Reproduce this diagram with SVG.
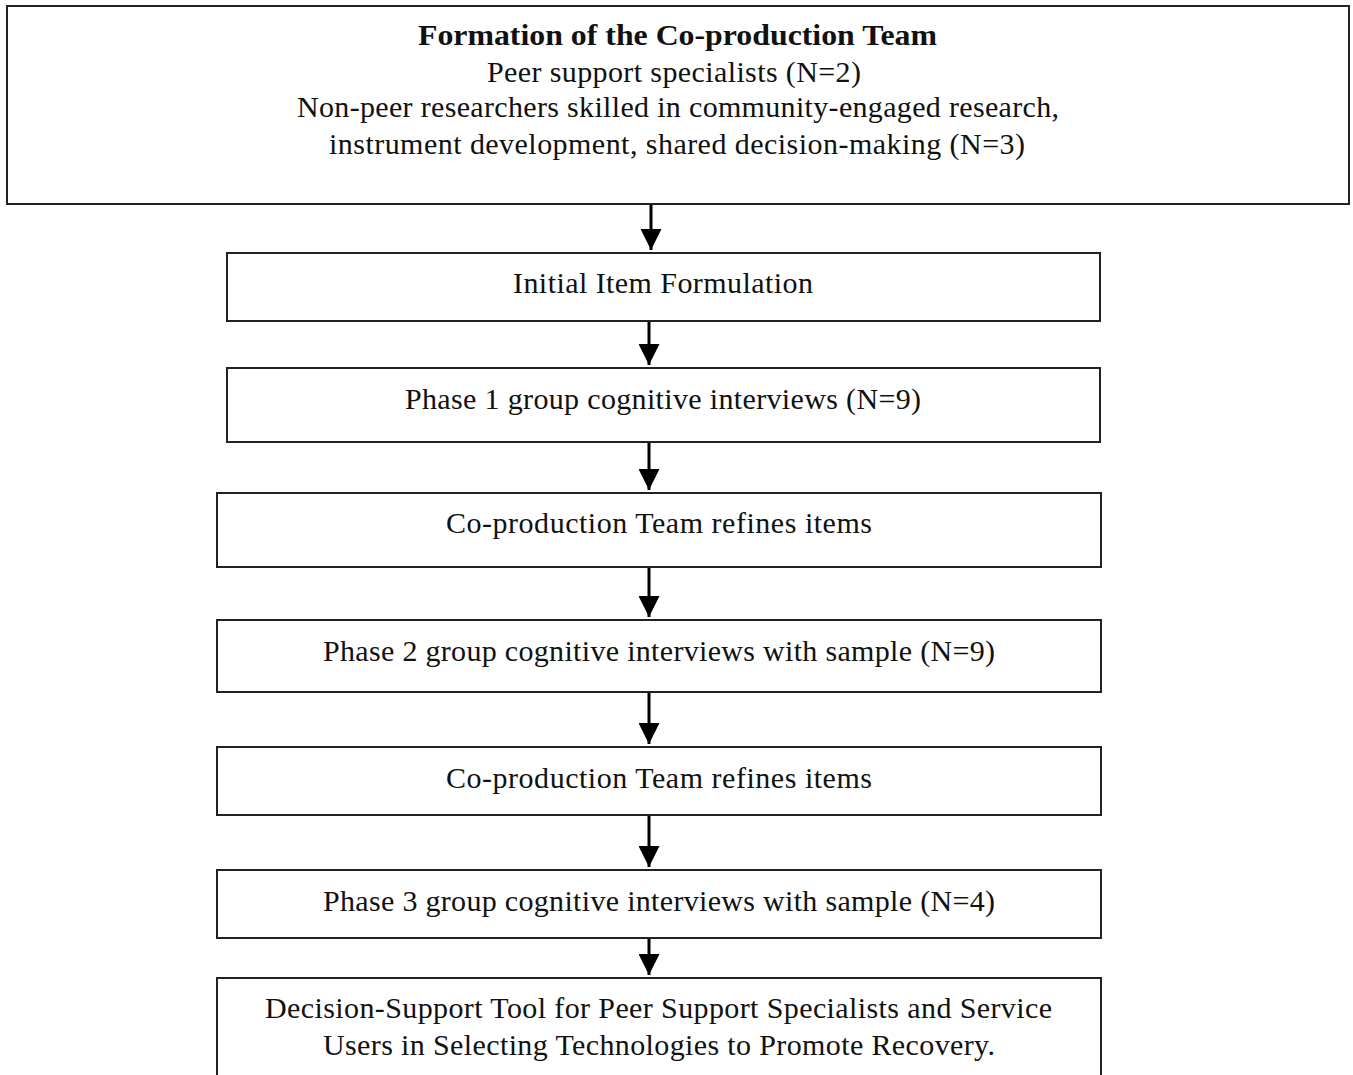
<svg xmlns="http://www.w3.org/2000/svg" width="1353" height="1075" viewBox="0 0 1353 1075">
<style>
.box{fill:#fff;stroke:#222;stroke-width:2}
.t{font-family:"Liberation Serif","Times New Roman",serif;font-size:30px;fill:#111;text-anchor:middle}
.b{font-weight:bold}
.c{stroke:#000;stroke-width:3;fill:none}
</style>
<defs>
<marker id="ah" markerWidth="8" markerHeight="7" refX="7" refY="3.5" orient="auto" markerUnits="strokeWidth">
<path d="M0,0 L7,3.5 L0,7 Z" fill="#000"/>
</marker>
</defs>
<rect width="1353" height="1075" fill="#fff"/>
<g id="connectors">
<line class="c" x1="651" y1="205" x2="651" y2="250" marker-end="url(#ah)"/>
<line class="c" x1="649" y1="322" x2="649" y2="365" marker-end="url(#ah)"/>
<line class="c" x1="649" y1="443" x2="649" y2="490" marker-end="url(#ah)"/>
<line class="c" x1="649" y1="568" x2="649" y2="617" marker-end="url(#ah)"/>
<line class="c" x1="649" y1="693" x2="649" y2="744" marker-end="url(#ah)"/>
<line class="c" x1="649" y1="816" x2="649" y2="867" marker-end="url(#ah)"/>
<line class="c" x1="649" y1="939" x2="649" y2="975" marker-end="url(#ah)"/>
</g>
<g id="n1">
<rect class="box" x="7" y="6" width="1342" height="198"/>
<text class="t b" x="677.5" y="45" textLength="519" lengthAdjust="spacingAndGlyphs">Formation of the Co-production Team</text>
<text class="t" x="674" y="82" textLength="374">Peer support specialists (N=2)</text>
<text class="t" x="678" y="117" textLength="762">Non-peer researchers skilled in community-engaged research,</text>
<text class="t" x="677" y="154" textLength="696">instrument development, shared decision-making (N=3)</text>
</g>
<g id="n2">
<rect class="box" x="227" y="253" width="873" height="68"/>
<text class="t" x="663" y="293" textLength="300">Initial Item Formulation</text>
</g>
<g id="n3">
<rect class="box" x="227" y="368" width="873" height="74"/>
<text class="t" x="663" y="409" textLength="516">Phase 1 group cognitive interviews (N=9)</text>
</g>
<g id="n4">
<rect class="box" x="217" y="493" width="884" height="74"/>
<text class="t" x="659" y="533" textLength="426">Co-production Team refines items</text>
</g>
<g id="n5">
<rect class="box" x="217" y="620" width="884" height="72"/>
<text class="t" x="659" y="661" textLength="672">Phase 2 group cognitive interviews with sample (N=9)</text>
</g>
<g id="n6">
<rect class="box" x="217" y="747" width="884" height="68"/>
<text class="t" x="659" y="788" textLength="426">Co-production Team refines items</text>
</g>
<g id="n7">
<rect class="box" x="217" y="870" width="884" height="68"/>
<text class="t" x="659" y="911" textLength="672">Phase 3 group cognitive interviews with sample (N=4)</text>
</g>
<g id="n8">
<rect class="box" x="217" y="978" width="884" height="120"/>
<text class="t" x="658.5" y="1018" textLength="787">Decision-Support Tool for Peer Support Specialists and Service</text>
<text class="t" x="659" y="1055" textLength="672">Users in Selecting Technologies to Promote Recovery.</text>
</g>
</svg>
